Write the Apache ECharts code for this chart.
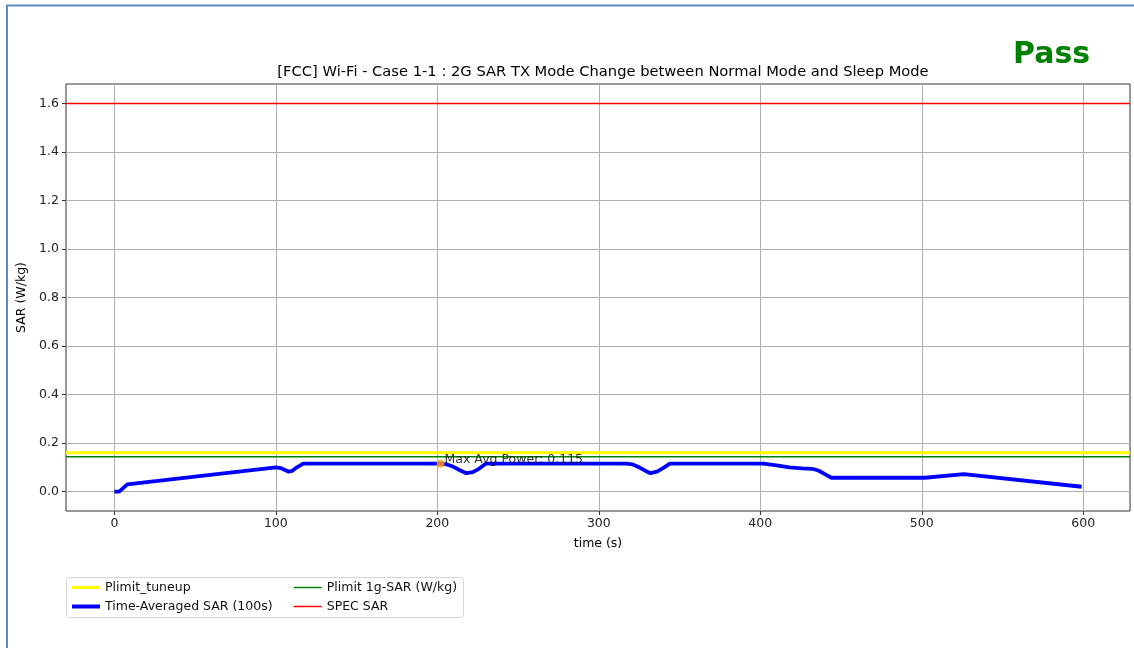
<!DOCTYPE html>
<html>
<head>
<meta charset="utf-8">
<script src="https://cdn.jsdelivr.net/npm/echarts@6/dist/echarts.min.js"></script>
<style>
  html, body { margin: 0; padding: 0; background: #fff; }
  #main { width: 1134px; height: 648px; }
</style>
</head>
<body>
<div id="main"></div>
<script>
// time axis (s) and time-averaged SAR
var timeSec = [0, 3, 8, 100, 103, 106, 108, 110, 113, 117, 202, 206, 210, 214, 218, 222, 226, 230,
    317, 321, 325, 329, 332, 336, 340, 344, 402, 410, 418, 426, 432, 436, 440, 444, 502, 526, 599];
var avgSar = [0, 0, 0.03, 0.1, 0.097, 0.088, 0.082, 0.085, 0.1, 0.115, 0.115, 0.112, 0.102, 0.088,
    0.076, 0.08, 0.095, 0.115, 0.115, 0.112, 0.1, 0.085, 0.076, 0.082, 0.098, 0.115, 0.115, 0.108,
    0.1, 0.096, 0.094, 0.087, 0.072, 0.057, 0.057, 0.072, 0.02];
var tuneupLevel = 0.16;
var limit1g = 0.144;
var specSar = 1.6;
var maxPoint = [202, 0.115];
var xTicks = [0, 100, 200, 300, 400, 500, 600];
var yTicks = [0, 0.2, 0.4, 0.6, 0.8, 1.0, 1.2, 1.4, 1.6];
var xRange = [-29.95, 628.95];
var yRange = [-0.08, 1.68];

var font = 'DejaVu Sans';

function pairs(xs, ys) {
    var out = [];
    for (var i = 0; i < xs.length; i++) {
        out.push([xs[i], ys[i]]);
    }
    return out;
}

function hline(v) {
    return [[xRange[0], v], [xRange[1], v]];
}

var myChart = echarts.init(document.getElementById('main'));

var legendBase = {
    orient: 'vertical',
    top: 581,
    padding: 0,
    itemWidth: 28,
    itemHeight: 14,
    itemGap: 6,
    itemStyle: { opacity: 0 },
    textStyle: { fontFamily: font, fontSize: 12.5, color: '#111' }
};

var option = {
    backgroundColor: '#fff',
    animation: false,
    title: {
        text: '[FCC] Wi-Fi - Case 1-1 : 2G SAR TX Mode Change between Normal Mode and Sleep Mode',
        left: 598,
        top: 60,
        textAlign: 'center',
        textStyle: { fontFamily: font, fontSize: 14.7, fontWeight: 'normal', color: '#000' }
    },
    grid: { left: 66, right: 4, top: 84, bottom: 137, show: true, borderColor: '#333', borderWidth: 1 },
    legend: [
        Object.assign({}, legendBase, {
            left: 70,
            data: [
                { name: 'Plimit_tuneup', lineStyle: { width: 3 } },
                { name: 'Time-Averaged SAR (100s)', lineStyle: { width: 4 } }
            ]
        }),
        Object.assign({}, legendBase, {
            left: 293,
            data: [
                { name: 'Plimit 1g-SAR (W/kg)', lineStyle: { width: 1.5 } },
                { name: 'SPEC SAR', lineStyle: { width: 1.5 } }
            ]
        })
    ],
    xAxis: {
        type: 'value',
        min: xRange[0],
        max: xRange[1],
        name: 'time (s)',
        nameLocation: 'middle',
        nameGap: 26,
        nameTextStyle: { fontFamily: font, fontSize: 12.5, color: '#000' },
        axisLine: { show: false, onZero: false },
        axisTick: { show: true, customValues: xTicks, length: 4, lineStyle: { color: '#333' } },
        axisLabel: { customValues: xTicks, margin: 6, fontFamily: font, fontSize: 12.5, color: '#222' },
        splitLine: { show: true, lineStyle: { color: '#b0b0b0', width: 1 } }
    },
    yAxis: {
        type: 'value',
        min: yRange[0],
        max: yRange[1],
        name: 'SAR (W/kg)',
        nameLocation: 'middle',
        nameGap: 30,
        nameTextStyle: { fontFamily: font, fontSize: 12.5, color: '#000' },
        axisLine: { show: false, onZero: false },
        axisTick: { show: true, customValues: yTicks, length: 4, lineStyle: { color: '#333' } },
        axisLabel: {
            customValues: yTicks, margin: 7, fontFamily: font, fontSize: 12.5, color: '#222',
            formatter: function(v) { return v.toFixed(1); }
        },
        splitLine: { show: true, lineStyle: { color: '#b0b0b0', width: 1 } }
    },
    series: [{
        name: 'Plimit_tuneup',
        type: 'line',
        symbol: 'none',
        data: hline(tuneupLevel),
        lineStyle: { color: '#ffff00', width: 3 },
        itemStyle: { color: '#ffff00' },
        z: 3
    }, {
        name: 'Time-Averaged SAR (100s)',
        type: 'line',
        symbol: 'none',
        data: pairs(timeSec, avgSar),
        lineStyle: { color: '#0000ff', width: 3.8 },
        itemStyle: { color: '#0000ff' },
        z: 5
    }, {
        name: 'Plimit 1g-SAR (W/kg)',
        type: 'line',
        symbol: 'none',
        data: hline(limit1g),
        lineStyle: { color: '#008000', width: 1.5 },
        itemStyle: { color: '#008000' },
        z: 4
    }, {
        name: 'SPEC SAR',
        type: 'line',
        symbol: 'none',
        data: hline(specSar),
        lineStyle: { color: '#ff0000', width: 1.5 },
        itemStyle: { color: '#ff0000' },
        z: 4
    }, {
        name: 'max',
        type: 'scatter',
        symbolSize: 8,
        data: [maxPoint],
        itemStyle: { color: '#ff9f0e' },
        label: {
            show: true,
            position: 'right',
            distance: 0,
            offset: [0, -4],
            formatter: 'Max Avg Power: ' + maxPoint[1],
            fontFamily: font,
            fontSize: 12.5,
            color: '#000'
        },
        z: 6
    }],
    graphic: [{
        type: 'rect',
        shape: { x: 66.5, y: 577.5, width: 397, height: 40, r: 3 },
        style: { fill: '#fff', stroke: '#d6d6d6', lineWidth: 1 },
        z: -1
    }, {
        type: 'text',
        left: 1013,
        top: 40,
        style: { text: 'Pass', fill: '#008000', fontFamily: font, fontSize: 30, fontWeight: 'bold' }
    }, {
        type: 'line',
        shape: { x1: 6, y1: 5.5, x2: 1134, y2: 5.5 },
        style: { stroke: '#5a8ac6', lineWidth: 2 }
    }, {
        type: 'line',
        shape: { x1: 7, y1: 5, x2: 7, y2: 648 },
        style: { stroke: '#5a8ac6', lineWidth: 2 }
    }]
};

myChart.setOption(option);
</script>
</body>
</html>
